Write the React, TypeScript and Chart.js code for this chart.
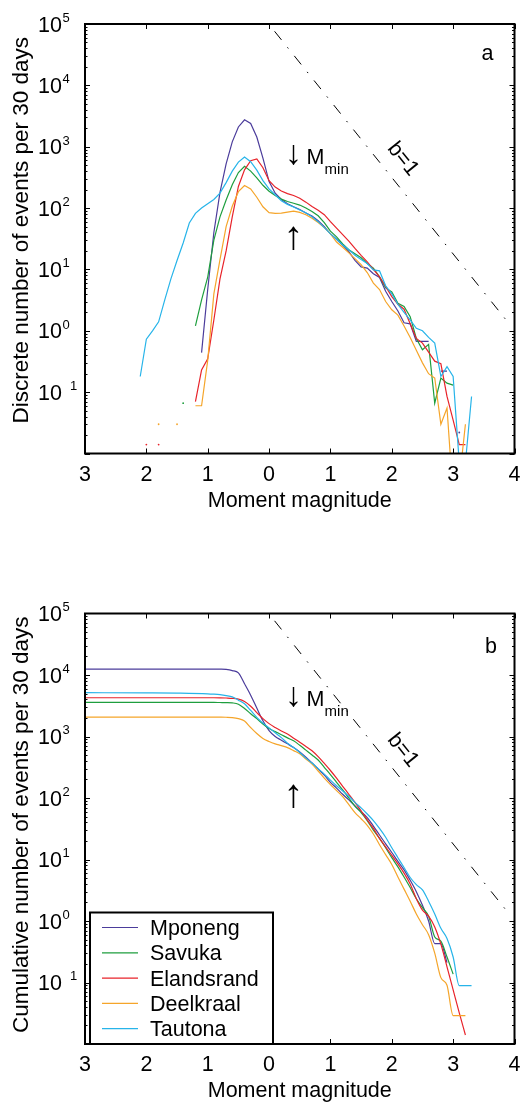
import React, { useEffect, useRef } from "react";
import { Chart, registerables } from "chart.js";

Chart.register(...registerables);

const FONT = '"Liberation Sans", Arial, Helvetica, sans-serif';

const seriesNames = ["Mponeng", "Savuka", "Elandsrand", "Deelkraal", "Tautona"];
const seriesColors = ["#4B3C9B", "#1E9E3E", "#E8232A", "#F5A52A", "#27B4E9"];

const xTickValues = [-3, -2, -1, 0, 1, 2, 3, 4];
const xTickLabels = ["3", "2", "1", "0", "1", "2", "3", "4"];
const yTickExponents = ["5", "4", "3", "2", "1", "0", "\u22121"];

const bLineMagnitudes = [0.09, 3.9];
const bLineValues = [76000, 1.35];

const discreteMagnitudes = [
  -2.1, -2.0, -1.9, -1.8, -1.7, -1.6, -1.5, -1.4, -1.3, -1.2,
  -1.1, -1.0, -0.9, -0.8, -0.7, -0.6, -0.5, -0.4, -0.3, -0.2,
  -0.1, 0.0, 0.1, 0.2, 0.3, 0.4, 0.5, 0.6, 0.7, 0.8,
  0.9, 1.0, 1.1, 1.2, 1.3, 1.4, 1.5, 1.6, 1.7, 1.8,
  1.9, 2.0, 2.1, 2.2, 2.3, 2.4, 2.5, 2.6, 2.7, 2.8,
  2.9, 3.0, 3.1, 3.2, 3.3,
];

const mponengDiscrete = [
  null, null, null, null, null, null, null, null, null, null,
  0.44, 4.7, 40, 180, 525, 1200, 2100, 2750, 2400, 1440,
  650, 270, 175, 138, 118, 105, 95, 83, 74, 62,
  50, 38, 31, 25, 19.5, 14, 11, 10.5, 8.5, 7.4,
  4.4, 3.0, 2.1, 1.35, 1.3, 0.67, 0.67, 0.67, null, 0.22,
  0.22, null, 0.022, null, null,
];
const savukaDiscrete = [
  null, null, null, null, null, null, null, 0.066, null, 1.2,
  3.2, 7.5, 30, 72, 135, 240, 380, 480, 400, 310,
  235, 188, 160, 140, 128, 120, 112, 100, 88, 75,
  58, 42, 34, 26, 21, 18, 15.5, 12.5, 10.5, 7.6,
  5.0, 4.3, 2.8, 2.5, 1.7, 0.75, 0.49, 0.6, 0.066, 0.17,
  0.14, 0.13, null, null, null,
];
const elandsrandDiscrete = [
  null, 0.014, null, 0.014, null, null, null, null, null, 0.07,
  0.23, 0.35, 1.5, 7, 20, 72, 225, 420, 590, 630,
  455, 280, 220, 190, 172, 160, 145, 125, 106, 92,
  78, 60, 47, 37, 29, 22, 17, 13.3, 10, 7.6,
  5.3, 3.6, 2.7, 2.25, 1.3, 0.75, 0.63, 0.45, 0.32, 0.29,
  0.085, 0.035, 0.014, 0.014, null,
];
const deelkraalDiscrete = [
  null, null, null, 0.03, null, null, 0.03, null, null, 0.06,
  0.06, 0.33, 4, 14.5, 50, 107, 185, 233, 205, 150,
  105, 84, 82, 83, 86, 89, 85, 78, 68, 58,
  48, 38, 28, 23, 18.6, 15, 12, 8.9, 6, 4.7,
  3.0, 2.2, 1.8, 1.2, 0.78, 0.48, 0.3, 0.2, 0.17, 0.03,
  0.055, 0.002, 0.0035, 0.03, null,
];
const tautonaDiscrete = [
  0.18, 0.73, 1.0, 1.4, 3.2, 7, 14, 27, 57, 82,
  100, 118, 138, 175, 260, 400, 560, 680, 570, 415,
  280, 205, 165, 132, 115, 104, 93, 84, 72, 60,
  48, 38, 31, 25, 21, 17, 14.5, 12.5, 9.8, 9.5,
  5.4, 4.0, 2.7, 2.0, 1.5, 1.1, 1.0, 0.78, 0.63, 0.18,
  0.26, 0.18, 0.007, 0.007, 0.085,
];

const cumulativeMagnitudes = [
  -3.0, -2.0, -1.5,
  -1.0, -0.9, -0.8, -0.7, -0.6, -0.5, -0.4, -0.3, -0.2, -0.1,
  0.0, 0.1, 0.2, 0.3, 0.4, 0.5, 0.6, 0.7, 0.8, 0.9,
  1.0, 1.1, 1.2, 1.3, 1.4, 1.5, 1.6, 1.7, 1.8, 1.9,
  2.0, 2.1, 2.2, 2.3, 2.4, 2.5, 2.6, 2.7, 2.8, 2.9,
  3.0, 3.1, 3.2, 3.3,
];

const mponengCumulative = [
  12500, 12500, 12500,
  12500, 12500, 12450, 12300, 11800, 10800, 7200, 4700, 2900, 1800,
  1250, 1000, 870, 760, 660, 560, 460, 370, 295, 235,
  180, 145, 115, 93, 74, 60, 48, 35, 25, 18,
  13, 9.3, 6.8, 4.6, 3.0, 1.8, 1.0, 0.43, 0.43, 0.21,
  null, null, null, null,
];
const savukaCumulative = [
  3580, 3580, 3580,
  3580, 3580, 3570, 3560, 3520, 3350, 2850, 2350, 1950, 1600,
  1350, 1200, 1070, 950, 850, 720, 600, 500, 415, 315,
  240, 180, 135, 100, 74, 58, 43, 30, 22, 15.5,
  10.7, 7.6, 5.2, 3.5, 2.3, 1.65, 1.2, 0.55, 0.47, 0.26,
  0.137, null, null, null,
];
const elandsrandCumulative = [
  4270, 4270, 4270,
  4270, 4270, 4260, 4230, 4180, 4050, 3700, 3100, 2450, 1950,
  1620, 1400, 1230, 1100, 940, 810, 690, 585, 470, 365,
  280, 210, 155, 115, 85, 62, 44, 32, 22, 16,
  11.7, 8.5, 6.0, 4.0, 2.3, 1.5, 1.2, 0.8, 0.42, 0.18,
  0.076, 0.032, 0.014, null,
];
const deelkraalCumulative = [
  2070, 2070, 2070,
  2070, 2070, 2065, 2055, 2030, 1950, 1780, 1400, 1120, 930,
  830, 760, 710, 660, 590, 525, 430, 355, 275, 210,
  165, 132, 105, 78, 58, 46, 36, 26, 17.4, 12,
  8.3, 5.2, 3.3, 2.1, 1.3, 0.87, 0.6, 0.3, 0.12, 0.09,
  0.029, 0.029, 0.029, null,
];
const tautonaCumulative = [
  5150, 5120, 5080,
  4950, 4880, 4780, 4620, 4400, 3900, 3400, 2650, 2050, 1650,
  1380, 1150, 960, 780, 660, 550, 445, 370, 300, 245,
  195, 158, 130, 107, 85, 69, 55, 43, 32, 23,
  15.5, 10.7, 7.4, 5.1, 3.9, 3.2, 2.1, 1.3, 0.76, 0.52,
  0.26, 0.089, 0.089, 0.089,
];

type PanelCfg = {
  canvasTop: number;
  padTop: number;
  xAxisHeight: number;
  yTitle: string;
  yTitleShift: number;
  letter: string;
  letterDx: number;
  letterDy: number;
  mags: number[];
  series: (number | null)[][];
  smooth: boolean;
  downArrow: { x: number; y: number };
  upArrow: { x: number; y: number };
  bLabel: { x: number; y: number };
  legend: boolean;
};

const panelA: PanelCfg = {
  canvasTop: 0,
  padTop: 24,
  xAxisHeight: 97.5,
  yTitle: "Discrete number of events per 30 days",
  yTitleShift: -8.5,
  letter: "a",
  letterDx: -27,
  letterDy: 36,
  mags: discreteMagnitudes,
  series: [mponengDiscrete, savukaDiscrete, elandsrandDiscrete, deelkraalDiscrete, tautonaDiscrete],
  smooth: false,
  downArrow: { x: 0.4, y: 733 },
  upArrow: { x: 0.4, y: 32 },
  bLabel: { x: 2.18, y: 630 },
  legend: false,
};

const panelB: PanelCfg = {
  canvasTop: 551,
  padTop: 62.5,
  xAxisHeight: 58,
  yTitle: "Cumulative number of events per 30 days",
  yTitleShift: -4,
  letter: "b",
  letterDx: -23.5,
  letterDy: 39.5,
  mags: cumulativeMagnitudes,
  series: [mponengCumulative, savukaCumulative, elandsrandCumulative, deelkraalCumulative, tautonaCumulative],
  smooth: true,
  downArrow: { x: 0.4, y: 4440 },
  upArrow: { x: 0.4, y: 106 },
  bLabel: { x: 2.18, y: 596 },
  legend: true,
};

function isIsolated(data: any[], i: number) {
  const v = data[i] ? data[i].y : null;
  if (v == null) return false;
  const prev = i > 0 ? data[i - 1].y : null;
  const next = i < data.length - 1 ? data[i + 1].y : null;
  return prev == null && next == null;
}

function buildDatasets(cfg: PanelCfg) {
  const ds: any[] = seriesNames.map((name, k) => ({
    label: name,
    data: cfg.mags.map((m, i) => ({ x: m, y: cfg.series[k][i] })),
    borderColor: seriesColors[k],
    backgroundColor: seriesColors[k],
    borderWidth: 1.2,
    pointRadius: (c: any) => (isIsolated(c.dataset.data, c.dataIndex) ? 0.9 : 0),
    pointBorderWidth: 0,
    pointHoverRadius: 0,
    spanGaps: false,
    fill: false,
    cubicInterpolationMode: cfg.smooth ? "monotone" : "default",
    tension: 0,
    order: seriesNames.length - k,
  }));
  ds.push({
    label: "b=1",
    data: bLineMagnitudes.map((m, i) => ({ x: m, y: bLineValues[i] })),
    borderColor: "#000",
    borderWidth: 1,
    borderDash: [11, 9.5, 1.5, 9.5],
    pointRadius: 0,
    fill: false,
    order: 10,
  });
  return ds;
}

function makeDecor(cfg: PanelCfg) {
  return {
    id: "decor",
    afterDraw(chart: any) {
      const { ctx, chartArea: ca } = chart;
      const xs = chart.scales.x;
      const ys = chart.scales.y;
      ctx.save();
      ctx.strokeStyle = "#000";
      ctx.fillStyle = "#000";

      // inward ticks
      ctx.lineWidth = 1;
      ctx.beginPath();
      xTickValues.forEach((v) => {
        const x = Math.round(xs.getPixelForValue(v)) + 0.5;
        ctx.moveTo(x, ca.bottom);
        ctx.lineTo(x, ca.bottom - 5);
        ctx.moveTo(x, ca.top);
        ctx.lineTo(x, ca.top + 5);
      });
      for (let e = -2; e < 5; e++) {
        for (let m = 1; m < 10; m++) {
          const y = Math.round(ys.getPixelForValue(m * Math.pow(10, e))) + 0.5;
          const len = m === 1 ? 5 : 2.5;
          ctx.moveTo(ca.left, y);
          ctx.lineTo(ca.left + len, y);
          ctx.moveTo(ca.right, y);
          ctx.lineTo(ca.right - len, y);
        }
      }
      ctx.stroke();

      // frame
      ctx.lineWidth = 2;
      ctx.strokeRect(ca.left, ca.top, ca.right - ca.left, ca.bottom - ca.top);

      // x tick labels
      ctx.font = `21.5px ${FONT}`;
      ctx.textAlign = "center";
      ctx.textBaseline = "alphabetic";
      xTickValues.forEach((v, i) => {
        ctx.fillText(xTickLabels[i], xs.getPixelForValue(v), ca.bottom + 27);
      });

      // y tick labels 10^n
      yTickExponents.forEach((ex, i) => {
        const y = ys.getPixelForValue(Math.pow(10, 5 - i));
        ctx.font = `21.5px ${FONT}`;
        ctx.textAlign = "left";
        const baseX = 38;
        ctx.fillText("10", baseX, y + 7.7);
        let ex0 = baseX + ctx.measureText("10").width + 0.5;
        ctx.font = `13px ${FONT}`;
        let shown = ex;
        if (ex.charAt(0) === "\u2212") {
          ex0 += ctx.measureText("\u2212").width;
          shown = ex.slice(1);
        }
        ctx.fillText(shown, ex0, y - 2.2);
      });

      // axis titles
      ctx.font = `21.5px ${FONT}`;
      ctx.textAlign = "center";
      ctx.fillText("Moment magnitude", (ca.left + ca.right) / 2, ca.bottom + 53);
      ctx.save();
      ctx.translate(28, (ca.top + ca.bottom) / 2 + cfg.yTitleShift);
      ctx.rotate(-Math.PI / 2);
      ctx.font = `22.5px ${FONT}`;
      ctx.fillText(cfg.yTitle, 0, 0);
      ctx.restore();

      // panel letter
      ctx.font = `21.5px ${FONT}`;
      ctx.textAlign = "center";
      ctx.fillText(cfg.letter, ca.right + cfg.letterDx, ca.top + cfg.letterDy);

      // M_min arrows
      const ax = xs.getPixelForValue(cfg.downArrow.x);
      const ay = ys.getPixelForValue(cfg.downArrow.y);
      ctx.font = `34px ${FONT}`;
      ctx.textAlign = "center";
      ctx.textBaseline = "middle";
      ctx.fillText("\u2193", ax, ay);
      ctx.font = `21.5px ${FONT}`;
      ctx.textAlign = "left";
      ctx.textBaseline = "alphabetic";
      ctx.fillText("M", ax + 13, ay + 9.5);
      ctx.font = `15px ${FONT}`;
      ctx.fillText("min", ax + 31, ay + 19);
      const ux = xs.getPixelForValue(cfg.upArrow.x);
      const uy = ys.getPixelForValue(cfg.upArrow.y);
      ctx.font = `40px ${FONT}`;
      ctx.textAlign = "center";
      ctx.textBaseline = "middle";
      ctx.fillText("\u2191", ux, uy);

      // b=1 label, rotated along the line
      const x1 = xs.getPixelForValue(bLineMagnitudes[0]);
      const y1 = ys.getPixelForValue(bLineValues[0]);
      const x2 = xs.getPixelForValue(bLineMagnitudes[1]);
      const y2 = ys.getPixelForValue(bLineValues[1]);
      const ang = Math.atan2(y2 - y1, x2 - x1);
      ctx.save();
      ctx.translate(xs.getPixelForValue(cfg.bLabel.x), ys.getPixelForValue(cfg.bLabel.y));
      ctx.rotate(ang);
      ctx.textAlign = "center";
      ctx.textBaseline = "middle";
      ctx.font = `21.5px ${FONT}`;
      ctx.fillText("b=1", 0, 0);
      ctx.restore();

      // legend
      if (cfg.legend) {
        const bx = ca.left + 5;
        const bw = 183;
        const bh = 131.5;
        const by = ca.bottom - bh;
        ctx.fillStyle = "#fff";
        ctx.fillRect(bx, by, bw, bh);
        ctx.lineWidth = 2;
        ctx.strokeStyle = "#000";
        ctx.strokeRect(bx, by, bw, bh);
        ctx.font = `21.5px ${FONT}`;
        ctx.textAlign = "left";
        ctx.textBaseline = "alphabetic";
        seriesNames.forEach((name, k) => {
          const ry = by + 15 + k * 25.3;
          ctx.strokeStyle = seriesColors[k];
          ctx.lineWidth = 1.2;
          ctx.beginPath();
          ctx.moveTo(bx + 12, ry);
          ctx.lineTo(bx + 48, ry);
          ctx.stroke();
          ctx.fillStyle = "#000";
          ctx.fillText(name, bx + 60, ry + 7.5);
        });
      }
      ctx.restore();
    },
  };
}

function Panel({ cfg }: { cfg: PanelCfg }) {
  const ref = useRef<HTMLCanvasElement>(null);
  useEffect(() => {
    const canvas = ref.current;
    if (!canvas) return;
    const chart = new Chart(canvas, {
      type: "line",
      data: { datasets: buildDatasets(cfg) },
      options: {
        animation: false,
        responsive: false,
        maintainAspectRatio: false,
        devicePixelRatio: 1,
        events: [],
        layout: { padding: { left: 0, right: 7.5, top: cfg.padTop, bottom: 0 } },
        plugins: {
          legend: { display: false },
          tooltip: { enabled: false },
          title: { display: false },
        },
        scales: {
          x: {
            type: "linear",
            position: "bottom",
            min: -3,
            max: 4,
            grid: { display: false },
            border: { display: false },
            ticks: { display: false },
            afterFit: (s: any) => {
              s.height = cfg.xAxisHeight;
            },
          },
          y: {
            type: "logarithmic",
            position: "left",
            min: 0.01,
            max: 100000,
            grid: { display: false },
            border: { display: false },
            ticks: { display: false },
            afterFit: (s: any) => {
              s.width = 85;
            },
          },
        },
      } as any,
      plugins: [makeDecor(cfg)],
    });
    return () => chart.destroy();
  }, [cfg]);
  return (
    <canvas
      ref={ref}
      width={522}
      height={551}
      style={{ position: "absolute", left: 0, top: cfg.canvasTop, width: 522, height: 551, display: "block" }}
    />
  );
}

export default function App() {
  return (
    <div style={{ position: "absolute", left: 0, top: 0, width: 522, height: 1102, background: "#fff" }}>
      <Panel cfg={panelA} />
      <Panel cfg={panelB} />
    </div>
  );
}
